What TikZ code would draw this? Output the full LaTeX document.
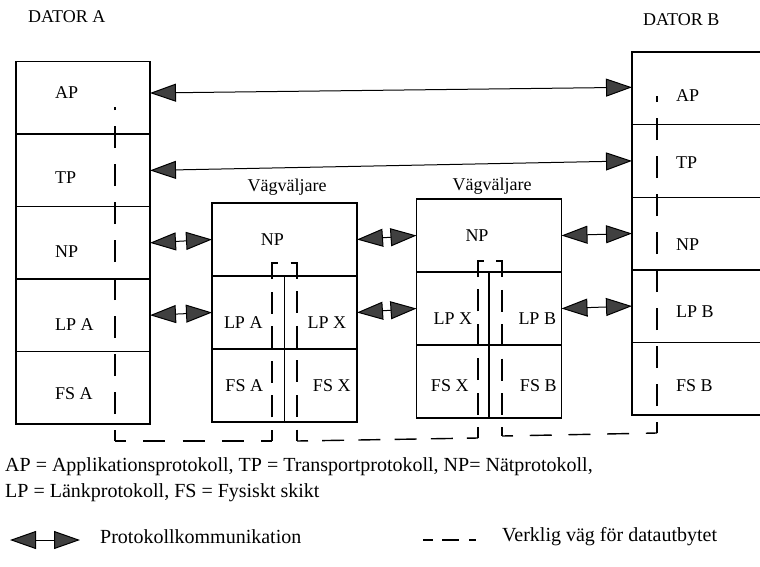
\documentclass[tikz,border=0pt]{standalone}
\usepackage{fontspec}
\setmainfont{Liberation Serif}
\usetikzlibrary{arrows.meta,positioning}

\tikzset{
  layer/.style={draw,line width=1.4pt,inner sep=0pt,outer sep=0pt,minimum width=134pt,minimum height=72.6pt},
  top/.style={layer,minimum width=145pt,minimum height=73pt},
  half/.style={layer,minimum width=72.5pt,minimum height=73pt},
  tag/.style={inner sep=0pt,font=\fontsize{18}{21}\selectfont},
  note/.style={inner sep=0pt,anchor=west,font=\fontsize{20}{24}\selectfont},
  datapath/.style={line width=1.4pt,dash pattern=on 22pt off 16pt,dash phase=11pt},
  run/.style={datapath,dash pattern=on 22pt off #1,dash phase=11pt},
  komm/.style={line width=1pt,>={Triangle[length=26pt,width=18pt,fill=black!75]},<->},
}

\begin{document}
\begin{tikzpicture}[x=1pt,y=-1pt]
\useasboundingbox (0,0) rectangle (760,566);

% dator A
\node[tag,anchor=west] (datorA) at (28,17) {DATOR A};
\foreach \n/\t/\dy [count=\i from 0] in {AP/AP/5,TP/TP/-7,NP/NP/-9,LP/LP A/-9,FS/FS A/-6} {
  \node[layer] (a\n) at (83,98+72.4*\i) {};
  \node[tag,anchor=west] (a\n-t) at ([xshift=-28pt,yshift=\dy pt]a\n.center) {\t};
}

% dator B
\node[tag,anchor=west] (datorB) at (643,20) {DATOR B};
\foreach \n/\t/\dy [count=\i from 0] in {AP/AP/-7,TP/TP/-2,NP/NP/-11,LP/LP B/-6,FS/FS B/-7} {
  \node[layer] (b\n) at (699,88.3+72.6*\i) {};
  \node[tag,anchor=west] (b\n-t) at ([xshift=-23pt,yshift=\dy pt]b\n.center) {\t};
}

% vagvaljare 1
\node[tag] (vv1) at (287,187) {Vägväljare};
\node[top] (r1NP) at (284.5,239.5) {};
\node[half,anchor=north west] (r1LA) at (r1NP.south west) {};
\node[half,anchor=north east] (r1LX) at (r1NP.south east) {};
\node[half,below=0pt of r1LA] (r1FA) {};
\node[half,below=0pt of r1LX] (r1FX) {};
\node[tag] (r1NP-t) at ([xshift=-12pt]r1NP.center) {NP};
\node[tag] (r1LA-t) at ([xshift=-5pt,yshift=-10pt]r1LA.center) {LP A};
\node[tag] (r1LX-t) at ([xshift=6pt,yshift=-10pt]r1LX.center) {LP X};
\node[tag] (r1FA-t) at ([xshift=-4pt]r1FA.center) {FS A};
\node[tag] (r1FX-t) at ([xshift=11pt]r1FX.center) {FS X};

% vagvaljare 2
\node[tag] (vv2) at (492,186) {Vägväljare};
\node[top] (r2NP) at (489,235.5) {};
\node[half,anchor=north west] (r2LX) at (r2NP.south west) {};
\node[half,anchor=north east] (r2LB) at (r2NP.south east) {};
\node[half,below=0pt of r2LX] (r2FX) {};
\node[half,below=0pt of r2LB] (r2FB) {};
\node[tag] (r2NP-t) at ([xshift=-12pt]r2NP.center) {NP};
\node[tag] (r2LX-t) at ([yshift=-10pt]r2LX.center) {LP X};
\node[tag] (r2LB-t) at ([xshift=12pt,yshift=-10pt]r2LB.center) {LP B};
\node[tag] (r2FX-t) at ([xshift=-3pt,yshift=-4pt]r2FX.center) {FS X};
\node[tag] (r2FB-t) at ([xshift=13pt,yshift=-4pt]r2FB.center) {FS B};

% protokollkommunikation
\draw[komm] ([yshift=5pt]aAP.east) -- ([yshift=1pt]bAP.west);
\draw[komm] (aTP.east) -- (bTP.west);
\draw[komm] (aNP.east) -- (r1NP.west);
\draw[komm] (r1NP.east) -- (r2NP.west);
\draw[komm] (r2NP.east) -- (bNP.west);
\draw[komm] (aLP.east) -- (r1LA.west);
\draw[komm] (r1LX.east) -- (r2LX.west);
\draw[komm] (r2LB.east) -- (bLP.west);

% verklig vag
\coordinate (wA) at (115,107);
\coordinate (wA1) at (115,441);
\coordinate (w1) at (272,441);
\coordinate (w1t) at (272,263);
\coordinate (w2t) at (297,263);
\coordinate (w2) at (297,441);
\coordinate (w3) at (478,438);
\coordinate (w3t) at (478,261);
\coordinate (w4t) at (502,261);
\coordinate (w4) at (502,436);
\coordinate (wB1) at (657,433);
\coordinate (wB) at (657,96);
\draw[datapath] (wA1) -- (wA);
\draw[run=17.25pt] (wA1) -- (w1);
\draw[run=12.6pt] (w1) -- (w1t) -- (w2t) -- (w2);
\draw[run=14.2pt] (w2) -- (w3);
\draw[run=12.4pt] (w3) -- (w3t) -- (w4t) -- (w4);
\draw[run=16.75pt] (w4) -- (wB1);
\draw[datapath] (wB1) -- (wB);

% forklaringar
\node[note] (forkl1) at (5,467) {AP = Applikationsprotokoll, TP = Transportprotokoll, NP= Nätprotokoll,};
\node[note] (forkl2) at (5,493) {LP = Länkprotokoll, FS = Fysiskt skikt};
\coordinate (k1) at (10,540);
\coordinate (k2) at (80,540);
\draw[komm] (k1) -- (k2);
\node[note] (kommtext) at (100,537) {Protokollkommunikation};
\coordinate (v1) at (423,540);
\coordinate (v2) at (476,540);
\draw[line width=1.4pt,dash pattern=on 10pt off 9pt on 17pt off 10pt on 7pt off 20pt] (v1) -- (v2);
\node[note] (vagtext) at (502,537) {Verklig väg för datautbytet};
\end{tikzpicture}
\end{document}
